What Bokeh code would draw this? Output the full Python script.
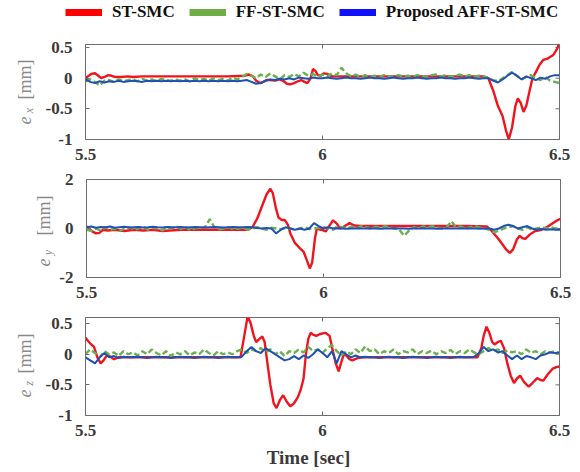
import numpy as np
from math import pi
from bokeh.plotting import figure
from bokeh.layouts import column, row
from bokeh.models import FixedTicker, LinearAxis, Range1d, Legend, LegendItem
from bokeh.core.properties import value
from bokeh.embed import file_html
from bokeh.resources import INLINE

# ---------------- data ----------------
series_names = ["ST-SMC", "FF-ST-SMC", "Proposed AFF-ST-SMC"]
x_ticks = [5.5, 6.0, 6.5]
x_tick_labels = ["5.5", "6", "6.5"]
y_ticks_small = [-1.0, -0.5, 0.0, 0.5]
y_tick_labels_small = ["-1", "-0.5", "0", "0.5"]
y_ticks_big = [-2.0, 0.0, 2.0]
y_tick_labels_big = ["-2", "0", "2"]
x_label = "Time [sec]"
y_unit = "[mm]"
y_subs = ["x", "y", "z"]

# common sample times (s) for FF-ST-SMC and proposed
t_grid = [round(5.5 + 0.01 * i, 2) for i in range(101)]

# ---- e_x ----
red_ex_t = [5.500, 5.505, 5.512, 5.520, 5.527, 5.533, 5.540, 5.548, 5.555, 5.562, 5.575, 5.590, 5.600, 5.620,
            5.660, 5.700, 5.750, 5.800, 5.835, 5.845, 5.853, 5.860, 5.868, 5.875, 5.882, 5.890, 5.900, 5.910,
            5.918, 5.925, 5.932, 5.940, 5.948, 5.955, 5.962, 5.968, 5.975, 5.980, 5.985, 5.990, 5.996, 6.003,
            6.010, 6.020, 6.040, 6.100, 6.200, 6.300, 6.340, 6.350, 6.360, 6.370, 6.380, 6.387, 6.393, 6.400,
            6.407, 6.412, 6.418, 6.424, 6.430, 6.437, 6.443, 6.450, 6.458, 6.466, 6.475, 6.487, 6.495, 6.500]
red_ex_v = [0.0, 0.03, 0.07, 0.08, 0.04, 0.0, 0.02, 0.05, 0.04, 0.02, 0.02, 0.03, 0.02, 0.03,
            0.03, 0.03, 0.03, 0.03, 0.04, 0.06, 0.03, -0.04, -0.08, -0.06, -0.03, -0.03, -0.04, -0.02,
            -0.05, -0.09, -0.10, -0.08, -0.05, -0.03, -0.06, -0.08, 0.0, 0.15, 0.12, 0.05, 0.04, 0.08,
            0.07, 0.03, 0.03, 0.03, 0.03, 0.03, 0.03, 0.0, -0.2, -0.45, -0.62, -0.85, -1.0, -0.8,
            -0.45, -0.33, -0.4, -0.55, -0.45, -0.2, 0.0, 0.1, 0.22, 0.3, 0.32, 0.38, 0.48, 0.58]
green_ex = [-0.05, -0.02, -0.06, -0.12, -0.04, -0.03, -0.06, -0.02, -0.05, -0.03,
            -0.02, -0.05, -0.01, -0.04, -0.02, -0.05, -0.01, -0.03, -0.04, -0.02,
            -0.04, -0.02, -0.05, 0.0, -0.03, -0.01, -0.04, 0.0, -0.03, -0.01,
            -0.04, 0.01, -0.02, 0.02, 0.07, 0.04, 0.0, 0.06, 0.02, 0.08,
            0.03, -0.02, 0.05, 0.02, 0.07, 0.03, 0.09, 0.04, 0.07, 0.02,
            0.06, 0.03, 0.08, 0.05, 0.17, 0.08, 0.03, 0.06, 0.02, 0.05,
            0.02, 0.04, 0.02, 0.05, 0.03, 0.02, 0.05, 0.03, 0.04, 0.02,
            0.05, 0.03, 0.02, 0.05, 0.06, 0.03, 0.05, 0.02, 0.04, 0.06,
            0.03, 0.05, 0.02, 0.04, 0.03, 0.0, -0.03, -0.05, 0.0, 0.05,
            0.10, 0.04, -0.02, 0.02, 0.05, 0.0, -0.03, 0.02, -0.04, -0.06, -0.08]
blue_ex = [-0.02, -0.06, -0.08, -0.05, -0.07, -0.05, -0.06, -0.04, -0.06, -0.05,
           -0.04, -0.05, -0.06, -0.04, -0.05, -0.04, -0.05, -0.04, -0.05, -0.04,
           -0.05, -0.04, -0.05, -0.04, -0.05, -0.04, -0.05, -0.04, -0.05, -0.04,
           -0.05, -0.04, -0.05, -0.04, -0.03, -0.06, -0.09, -0.08, -0.04, -0.02,
           -0.03, -0.01, -0.02, 0.0, -0.02, 0.01, 0.0, -0.01, 0.01, 0.0,
           0.0, 0.01, 0.0, -0.01, 0.0, 0.01, 0.0, 0.0, -0.01, 0.0,
           0.01, 0.0, 0.0, -0.01, 0.0, 0.01, 0.0, -0.01, 0.0, 0.0,
           0.01, 0.0, -0.01, 0.0, 0.0, 0.01, 0.0, 0.0, -0.01, 0.0,
           0.0, 0.01, 0.0, -0.01, 0.0, 0.0, -0.04, -0.07, -0.02, 0.04,
           0.09, 0.04, -0.02, 0.03, 0.0, -0.03, 0.01, -0.01, 0.03, 0.05, 0.05]

# ---- e_y ----
red_ey_t = [5.500, 5.505, 5.512, 5.520, 5.527, 5.535, 5.545, 5.560, 5.580, 5.600, 5.620, 5.640, 5.660, 5.700,
            5.750, 5.800, 5.840, 5.850, 5.860, 5.870, 5.880, 5.888, 5.893, 5.900, 5.905, 5.912, 5.918, 5.925,
            5.930, 5.940, 5.950, 5.958, 5.965, 5.971, 5.976, 5.982, 5.986, 5.995, 6.005, 6.012, 6.020, 6.028,
            6.035, 6.045, 6.055, 6.065, 6.080, 6.100, 6.200, 6.300, 6.345, 6.355, 6.370, 6.385, 6.393, 6.400,
            6.408, 6.414, 6.420, 6.426, 6.435, 6.445, 6.460, 6.475, 6.490, 6.500]
red_ey_v = [0.08, 0.0, -0.12, -0.2, -0.18, -0.05, -0.08, -0.05, -0.1, -0.05, -0.08, -0.05, -0.1, -0.05,
            -0.05, -0.05, -0.05, 0.05, 0.4, 0.9, 1.4, 1.62, 1.45, 0.8, 0.45, 0.35, 0.35, 0.15,
            -0.2, -0.6, -0.8, -0.95, -1.3, -1.63, -1.4, -0.4, 0.0, -0.05, -0.12, 0.1, 0.33, 0.2,
            0.0, 0.1, 0.22, 0.12, 0.1, 0.1, 0.1, 0.1, 0.08, -0.1, -0.45, -0.85, -1.0, -0.85,
            -0.45, -0.3, -0.4, -0.42, -0.25, -0.12, -0.05, 0.1, 0.3, 0.4]
green_ey = [-0.05, -0.1, 0.0, -0.08, 0.05, -0.05, 0.0, -0.1, 0.0, 0.05,
            -0.05, 0.0, 0.08, -0.05, 0.03, 0.0, -0.08, 0.05, 0.0, 0.08,
            -0.02, 0.05, -0.08, 0.03, 0.0, 0.06, 0.38, 0.05, -0.03, 0.0,
            0.05, -0.03, 0.0, 0.03, -0.05, 0.0, 0.05, 0.0, -0.05, 0.03,
            0.0, -0.03, 0.02, 0.0, -0.05, 0.0, 0.05, -0.02, 0.0, 0.03,
            0.05, 0.0, -0.05, 0.1, 0.05, 0.0, 0.08, 0.02, 0.1, 0.05,
            0.0, 0.08, 0.03, 0.1, 0.05, 0.0, -0.05, -0.3, -0.1, 0.05,
            0.0, 0.08, 0.05, 0.1, 0.03, 0.0, 0.05, 0.3, 0.05, 0.08,
            0.0, 0.05, 0.1, 0.03, 0.0, -0.05, -0.15, -0.1, 0.0, 0.05,
            0.1, 0.0, -0.05, 0.05, -0.05, 0.0, 0.05, 0.0, 0.05, 0.0, 0.0]
blue_ey = [0.05, 0.08, 0.03, 0.06, 0.05, 0.08, 0.03, 0.05, 0.07, 0.04,
           0.05, 0.06, 0.04, 0.05, 0.07, 0.05, 0.04, 0.06, 0.05, 0.05,
           0.06, 0.04, 0.05, 0.06, 0.05, 0.04, 0.05, 0.06, 0.05, 0.04,
           0.05, 0.06, 0.05, 0.05, 0.06, 0.05, 0.02, 0.0, 0.02, 0.0,
           -0.2, -0.05, 0.05, 0.0, -0.05, 0.0, -0.05, 0.0, 0.22, 0.1,
           0.0, 0.05, 0.0, 0.01, 0.0, -0.01, 0.0, 0.01, 0.0, 0.0,
           0.01, 0.0, -0.01, 0.0, 0.0, 0.01, 0.0, 0.0, -0.01, 0.0,
           0.0, 0.01, 0.0, 0.0, -0.01, 0.0, 0.01, 0.0, 0.0, 0.0,
           0.01, 0.0, 0.0, -0.01, 0.0, 0.0, -0.05, 0.0, 0.1, 0.15,
           0.1, 0.0, 0.05, 0.1, 0.0, -0.05, -0.02, -0.05, -0.03, -0.05, -0.05]

# ---- e_z ----
red_ez_t = [5.500, 5.505, 5.512, 5.518, 5.525, 5.532, 5.538, 5.545, 5.550, 5.560, 5.570, 5.600, 5.650, 5.700,
            5.750, 5.800, 5.827, 5.835, 5.842, 5.848, 5.855, 5.860, 5.867, 5.873, 5.878, 5.883, 5.890, 5.897,
            5.903, 5.910, 5.917, 5.925, 5.932, 5.940, 5.948, 5.954, 5.960, 5.965, 5.970, 5.975, 5.980, 5.987,
            5.995, 6.006, 6.015, 6.022, 6.028, 6.034, 6.040, 6.045, 6.050, 6.057, 6.063, 6.075, 6.090, 6.150,
            6.200, 6.250, 6.300, 6.327, 6.335, 6.340, 6.346, 6.352, 6.358, 6.363, 6.370, 6.376, 6.383, 6.390,
            6.397, 6.404, 6.410, 6.417, 6.425, 6.435, 6.443, 6.453, 6.460, 6.466, 6.475, 6.485, 6.493, 6.500]
red_ez_v = [0.27, 0.22, 0.16, 0.12, -0.05, -0.15, -0.1, -0.02, -0.03, -0.08, -0.05, -0.05, -0.05, -0.05,
            -0.05, -0.05, -0.05, 0.3, 0.62, 0.52, 0.3, 0.2, 0.25, 0.29, 0.2, -0.1, -0.5, -0.8,
            -0.88, -0.75, -0.67, -0.78, -0.85, -0.8, -0.7, -0.58, -0.4, 0.0, 0.25, 0.35, 0.32, 0.3,
            0.33, 0.35, 0.3, 0.05, -0.15, -0.28, -0.12, 0.0, -0.02, -0.08, -0.1, -0.06, -0.05, -0.05,
            -0.05, -0.05, -0.05, -0.05, 0.1, 0.3, 0.45, 0.35, 0.2, 0.16, 0.2, 0.22, 0.1, -0.15,
            -0.35, -0.47, -0.4, -0.35, -0.45, -0.53, -0.47, -0.39, -0.42, -0.43, -0.33, -0.24, -0.21, -0.2]
green_ez = [0.0, 0.08, 0.02, -0.05, 0.05, 0.0, 0.03, -0.03, 0.05, 0.0,
            0.03, -0.02, 0.05, 0.0, 0.08, 0.02, -0.02, 0.05, -0.03, 0.03,
            0.0, 0.05, -0.02, 0.03, 0.0, 0.08, 0.02, -0.02, 0.05, 0.0,
            0.03, 0.0, 0.05, 0.08, 0.02, 0.08, 0.05, 0.1, 0.03, 0.08,
            0.0, 0.05, -0.03, 0.05, 0.02, 0.08, 0.03, 0.12, 0.05, 0.08,
            0.02, 0.1, 0.15, 0.05, -0.02, 0.05, 0.0, 0.08, 0.02, 0.13,
            0.05, 0.08, 0.0, 0.05, 0.02, 0.08, 0.0, 0.05, 0.03, 0.08,
            0.0, 0.05, 0.02, 0.06, 0.0, 0.05, 0.02, 0.07, 0.0, 0.05,
            0.02, 0.08, 0.03, 0.0, 0.05, 0.1, 0.05, 0.08, 0.02, 0.06,
            0.03, 0.05, 0.0, 0.08, 0.02, 0.05, 0.0, 0.05, 0.03, 0.05, 0.02]
blue_ez = [-0.05, -0.1, -0.15, -0.05, 0.02, -0.05, -0.03, -0.06, -0.04, -0.05,
           -0.05, -0.04, -0.05, -0.06, -0.05, -0.04, -0.05, -0.05, -0.06, -0.05,
           -0.04, -0.05, -0.05, -0.06, -0.05, -0.04, -0.05, -0.05, -0.06, -0.05,
           -0.04, -0.05, -0.05, -0.04, 0.05, 0.12, 0.05, 0.02, 0.1, 0.05,
           0.0, -0.05, -0.1, -0.08, -0.03, -0.08, -0.02, -0.06, 0.0, 0.08,
           0.02, -0.05, 0.05, -0.15, 0.05, 0.0, -0.05, -0.02, -0.05, -0.04,
           -0.05, -0.05, -0.06, -0.05, -0.04, -0.05, -0.05, -0.06, -0.05, -0.04,
           -0.05, -0.05, -0.06, -0.05, -0.04, -0.05, -0.05, -0.06, -0.05, -0.04,
           -0.05, -0.05, -0.04, 0.02, 0.12, 0.05, 0.08, 0.03, 0.05, -0.02,
           -0.08, -0.02, -0.08, -0.03, -0.05, -0.08, -0.02, 0.0, 0.03, 0.02, 0.03]

# ---------------- styling / layout ----------------
RED, GREEN, BLUE = "#f0141e", "#6ab04c", "#1f50b4"
LEG_COLORS = ["#ff0000", "#70ad47", "#1010ff"]
AX_COL = "#6e6e6e"
TICK_COL = "#3a3a3a"
LAB_COL = "#8a8a8a"
SERIF = "Liberation Serif"

TOTAL_W = 576
FRAME_L, FRAME_W, BORDER_R = 85, 474, 13
LEG_H, TIME_H = 30, 30


def blank_fig(w, h, y_range=None):
    f = figure(width=w, height=h, output_backend="svg", toolbar_location=None,
               x_range=Range1d(0, w), y_range=y_range if y_range is not None else Range1d(0, h),
               x_axis_type=None, y_axis_type=None,
               min_border=0, min_border_left=0, min_border_right=0, min_border_top=0, min_border_bottom=0)
    f.grid.visible = False
    f.outline_line_color = None
    return f


# page-pixel anchors of the y-label parts (the label strip's frame is aligned with the panel frame)
panels = [
    dict(red_t=red_ex_t, red_v=red_ex_v, green=green_ex, blue=blue_ex, yr=(-1.0, 0.55),
         yt=y_ticks_small, ytl=y_tick_labels_small, fh=95, bt=14, bb=26, lab_w=40, top=44,
         mm_y=79, e_y=120, s_y=110, lab_x=24),
    dict(red_t=red_ey_t, red_v=red_ey_v, green=green_ey, blue=blue_ey, yr=(-2.0, 2.0),
         yt=y_ticks_big, ytl=y_tick_labels_big, fh=98, bt=14, bb=26, lab_w=56, top=179,
         mm_y=215, e_y=262, s_y=252, lab_x=43),
    dict(red_t=red_ez_t, red_v=red_ez_v, green=green_ez, blue=blue_ez, yr=(-1.0, 0.6),
         yt=y_ticks_small, ytl=y_tick_labels_small, fh=98, bt=14, bb=26, lab_w=40, top=317,
         mm_y=353, e_y=393, s_y=383, lab_x=24),
]

# legend strip (the legend's own renderers sit outside the visible range)
leg_fig = blank_fig(TOTAL_W, LEG_H)
dummies = [leg_fig.line([-10, -9], [-10, -10], line_color=c, line_width=7) for c in LEG_COLORS]
legend = Legend(items=[LegendItem(label=n, renderers=[r]) for n, r in zip(series_names, dummies)],
                orientation="horizontal", location=(65, 8),
                glyph_width=37, glyph_height=12, label_standoff=10, spacing=14,
                padding=0, margin=0, border_line_color=None, background_fill_alpha=0,
                label_text_font=SERIF, label_text_font_style="bold", label_text_font_size="17px",
                label_text_color="#111111", label_height=14)
leg_fig.add_layout(legend, "center")

rows = [leg_fig]
for k, cfg in enumerate(panels):
    y0, y1 = cfg["yr"]
    b_left = FRAME_L - cfg["lab_w"]
    fig_h = cfg["bt"] + cfg["fh"] + cfg["bb"]
    p = figure(frame_width=FRAME_W, frame_height=cfg["fh"], output_backend="svg", toolbar_location=None,
               x_range=Range1d(5.5, 6.5), y_range=Range1d(y0, y1),
               min_border_left=b_left, min_border_right=BORDER_R, min_border_top=cfg["bt"],
               min_border_bottom=cfg["bb"], x_axis_type=None, y_axis_type=None)
    p.grid.visible = False
    p.outline_line_color = AX_COL
    p.outline_line_width = 1

    xt = FixedTicker(ticks=x_ticks)
    yt = FixedTicker(ticks=cfg["yt"])
    xax = LinearAxis(ticker=xt, major_label_overrides={t: s for t, s in zip(x_ticks, x_tick_labels)})
    yax = LinearAxis(ticker=yt, major_label_overrides={t: s for t, s in zip(cfg["yt"], cfg["ytl"])})
    for ax in (xax, yax):
        ax.axis_line_color = AX_COL
        ax.major_tick_line_color = AX_COL
        ax.major_tick_in = 4
        ax.major_tick_out = 0
        ax.minor_tick_line_color = None
        ax.major_label_text_font = SERIF
        ax.major_label_text_font_style = "bold"
        ax.major_label_text_font_size = "17px"
        ax.major_label_text_color = TICK_COL
    xax.major_label_standoff = 9
    yax.major_label_standoff = 13
    p.add_layout(xax, "below")
    p.add_layout(yax, "left")

    # inner ticks on the top and right edges of the box
    p.scatter(x_ticks, [y1] * len(x_ticks), marker="dash", size=8, angle=pi / 2, line_color=AX_COL)
    p.scatter([6.5] * len(cfg["yt"]), cfg["yt"], marker="dash", size=8, line_color=AX_COL)

    p.line(cfg["red_t"], cfg["red_v"], line_color=RED, line_width=2.4)
    p.line(t_grid, cfg["green"], line_color=GREEN, line_width=2.4, line_dash="6 3")
    p.line(t_grid, cfg["blue"], line_color=BLUE, line_width=2.0)

    # y-axis label strip: italic e, subscript, then [mm]  (read bottom to top)
    lw = cfg["lab_w"]
    lf = blank_fig(lw, fig_h, y_range=Range1d(y0, y1))
    top, fh = cfg["top"], cfg["fh"]

    def dy(py):
        return y1 - (py - top) / fh * (y1 - y0)

    lx = cfg["lab_x"]
    lf.text(x=[lx], y=[dy(cfg["mm_y"])], text=[y_unit], angle=pi / 2, text_align="center",
            text_baseline="middle", text_font=value(SERIF), text_font_size="18px", text_color=LAB_COL)
    lf.text(x=[lx], y=[dy(cfg["e_y"])], text=["e"], angle=pi / 2, text_align="center",
            text_baseline="middle", text_font=value(SERIF), text_font_style="italic",
            text_font_size="18px", text_color=LAB_COL)
    lf.text(x=[lx + 4], y=[dy(cfg["s_y"])], text=[y_subs[k]], angle=pi / 2, text_align="center",
            text_baseline="middle", text_font=value(SERIF), text_font_style="italic",
            text_font_size="12px", text_color=LAB_COL)
    rows.append(row(lf, p, spacing=0))

# x-axis label strip
tf = blank_fig(TOTAL_W, TIME_H)
tf.text(x=[308], y=[TIME_H - 16], text=[x_label], text_align="center", text_baseline="middle",
        text_font=value(SERIF), text_font_style="bold", text_font_size="19px", text_color=TICK_COL)
rows.append(tf)

layout = column(*rows, spacing=0)
open("out.html", "w").write(file_html(layout, INLINE))
